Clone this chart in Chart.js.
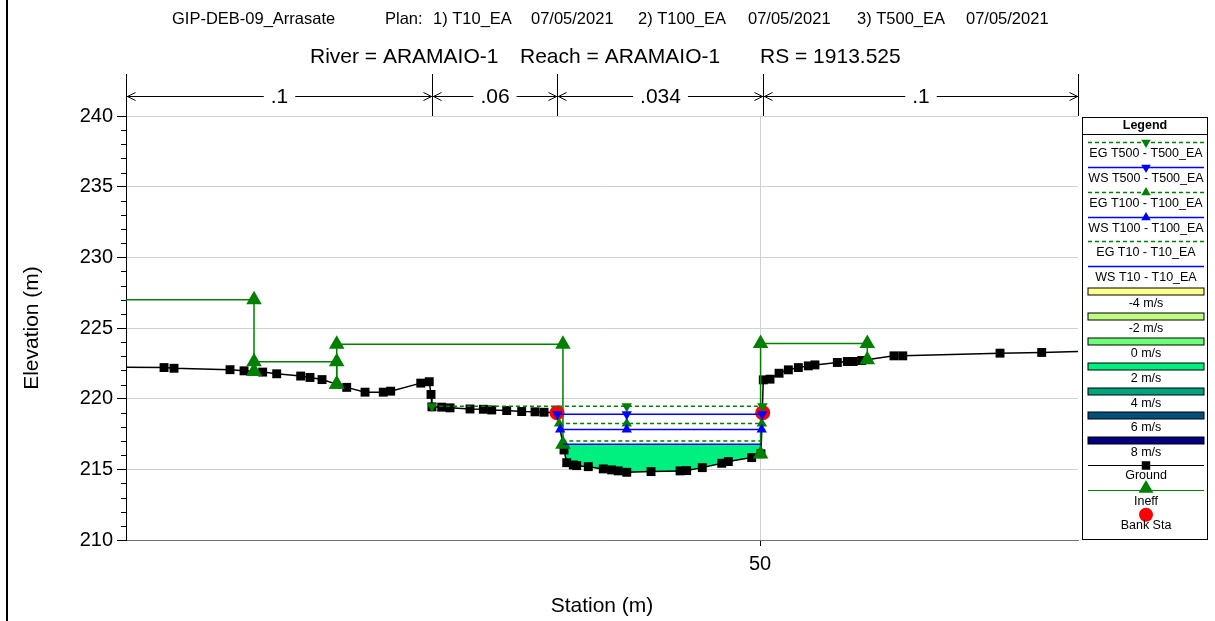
<!DOCTYPE html>
<html>
<head>
<meta charset="utf-8">
<title>ARAMAIO-1 RS 1913.525</title>
<script src="https://cdn.jsdelivr.net/npm/chart.js@4.4.1/dist/chart.umd.min.js"></script>
<style>
  html, body { margin: 0; padding: 0; background: #fff; }
  canvas { display: block; }
</style>
</head>
<body>
<canvas id="xsChart" width="1215" height="621"></canvas>
<script>
// ground survey points (station m, elevation m)
const groundSta = [
  0, 5.82, 6.56, 10.71, 11.75, 13.13, 14.17, 15.95, 16.64, 17.53,
  19.36, 20.72, 22.07, 22.62, 24.85, 25.48, 25.61, 25.68, 26.4, 27.02,
  28.5, 29.49, 30.11, 31.22, 32.33, 33.32, 33.99, 34.95, 35.47, 35.67,
  36.16, 36.41, 37.27, 38.38, 39.0, 39.49, 40.12, 41.92, 44.07, 44.56,
  45.72, 47.16, 47.65, 49.38, 50.07, 50.24, 50.74, 51.41, 52.1, 52.84,
  53.58, 54.07, 55.73, 56.47, 56.91, 57.54, 59.93, 60.58, 67.79, 70.88,
  75
];
const groundElev = [
  222.25, 222.2, 222.15, 222.05, 221.97, 221.88, 221.76, 221.6, 221.5, 221.35,
  220.8, 220.46, 220.46, 220.53, 221.1, 221.2, 220.3, 219.42, 219.4, 219.35,
  219.27, 219.25, 219.2, 219.16, 219.09, 219.07, 219.04, 219.0, 216.37, 215.47,
  215.31, 215.26, 215.19, 215.03, 214.96, 214.89, 214.79, 214.84, 214.89, 214.91,
  215.12, 215.43, 215.55, 215.83, 216.1, 221.33, 221.38, 221.8, 222.04, 222.2,
  222.32, 222.39, 222.56, 222.63, 222.63, 222.7, 223.03, 223.03, 223.22, 223.27,
  223.38
];

// bank stations
const bankSta = [34.95, 50.2];
const bankElev = [219.0, 219.0];

// ineffective flow areas
const ineffStart = [0, 12.49, 18.62, 50.04];
const ineffEnd = [12.49, 18.62, 35.39, 57.95];
const ineffElev = [227.0, 222.62, 223.85, 223.9];

// computed profiles
const profiles = ["T500", "T100", "T10"];
const wsElev = [218.9, 217.81, 216.78];
const egElev = [219.47, 218.24, 217.01];
const symbolSta = 40.12;

// Manning's n
const nBreakSta = [25.68, 34.95, 50.2];
const nValues = [".1", ".06", ".034", ".1"];

// velocity colour key
const velLabels = ["-4 m/s", "-2 m/s", "0 m/s", "2 m/s", "4 m/s", "6 m/s", "8 m/s"];
const velColors = ["#FFFF8C", "#BEFF82", "#6EFF78", "#00F080", "#00A47C", "#00507C", "#000080"];

// header
const planText = ["GIP-DEB-09_Arrasate", "Plan:", "1) T10_EA", "07/05/2021", "2) T100_EA", "07/05/2021", "3) T500_EA", "07/05/2021"];
const planX = [172, 385, 433, 531, 638, 748, 857, 966];
const rsText = ["River = ARAMAIO-1", "Reach = ARAMAIO-1", "RS = 1913.525"];
const rsX = [310, 520, 760];

const FONT = "'Liberation Sans', Arial, sans-serif";
const GREEN = "#008000";
const BLUE = "#0000FF";

function groundAt(s) {
  for (let i = 1; i < groundSta.length; i++) {
    if (s <= groundSta[i]) {
      const t = (s - groundSta[i - 1]) / (groundSta[i] - groundSta[i - 1]);
      return groundElev[i - 1] + t * (groundElev[i] - groundElev[i - 1]);
    }
  }
  return groundElev[groundElev.length - 1];
}

// where a level meets the ground either side of the thalweg
function wetExtent(elev) {
  const k = groundElev.indexOf(Math.min(...groundElev));
  let i = k;
  while (i > 0 && groundElev[i - 1] < elev) i--;
  let j = k;
  while (j < groundElev.length - 1 && groundElev[j + 1] < elev) j++;
  const cross = (a, b) => groundSta[a] + (elev - groundElev[a]) / (groundElev[b] - groundElev[a]) * (groundSta[b] - groundSta[a]);
  return [cross(i - 1, i), cross(j, j + 1)];
}

const datasets = [];

profiles.forEach((p, k) => {
  const marker = k < 2;
  const rot = k === 0 ? 180 : 0;
  [[wsElev[k], BLUE, []], [egElev[k], GREEN, [4, 3]]].forEach(([elev, color, dash]) => {
    const [l, r] = wetExtent(elev);
    datasets.push({
      data: [{ x: l, y: elev }, { x: symbolSta, y: elev }, { x: r, y: elev }],
      showLine: true,
      borderColor: color,
      backgroundColor: color,
      borderWidth: 1.5,
      borderDash: dash,
      pointStyle: "triangle",
      pointRotation: rot,
      pointRadius: marker ? 6 : 0,
      pointBorderWidth: 0
    });
  });
});

datasets.push({
  data: bankSta.map((s, i) => ({ x: s, y: bankElev[i] })),
  showLine: false,
  backgroundColor: "#FF0000",
  pointStyle: "circle",
  pointRadius: 7.5,
  pointBorderWidth: 0
});

ineffStart.forEach((s, i) => {
  const e = ineffEnd[i];
  datasets.push({
    data: [
      { x: s, y: groundAt(s) },
      { x: s, y: ineffElev[i] },
      { x: e, y: ineffElev[i] },
      { x: e, y: groundAt(e) }
    ],
    showLine: true,
    borderColor: GREEN,
    backgroundColor: GREEN,
    borderWidth: 1.5,
    pointStyle: "triangle",
    pointRadius: 9,
    pointBorderWidth: 0
  });
});

datasets.push({
  data: groundSta.map((s, i) => ({ x: s, y: groundElev[i] })),
  showLine: true,
  borderColor: "#000",
  backgroundColor: "#000",
  borderWidth: 1.5,
  pointStyle: "rect",
  pointRadius: 6.3,
  pointBorderWidth: 0
});

// wetted area under the lowest profile
const [wl, wr] = wetExtent(wsElev[2]);
const wetted = [{ x: wl, y: wsElev[2] }];
groundSta.forEach((s, i) => { if (s > wl && s < wr) wetted.push({ x: s, y: groundElev[i] }); });
wetted.push({ x: wr, y: wsElev[2] });
datasets.push({
  data: wetted,
  showLine: true,
  borderWidth: 0,
  borderColor: "rgba(0,0,0,0)",
  pointRadius: 0,
  fill: { target: { value: wsElev[2] }, above: velColors[3], below: velColors[3] }
});

function seg(ctx, x1, y1, x2, y2) {
  ctx.beginPath();
  ctx.moveTo(x1, y1);
  ctx.lineTo(x2, y2);
  ctx.stroke();
}

const headerPlugin = {
  id: "header",
  afterDraw(chart) {
    const ctx = chart.ctx;
    ctx.save();
    ctx.fillStyle = "#000";
    ctx.textAlign = "left";
    ctx.textBaseline = "middle";
    ctx.font = `16.5px ${FONT}`;
    planText.forEach((t, i) => ctx.fillText(t, planX[i], 19));
    ctx.font = `21px ${FONT}`;
    rsText.forEach((t, i) => ctx.fillText(t, rsX[i], 57));
    ctx.fillRect(6, 0, 2, chart.height);
    ctx.restore();
  }
};

const manningPlugin = {
  id: "manningN",
  afterDraw(chart) {
    const { ctx, chartArea } = chart;
    const x = chart.scales.x;
    const xs = [chartArea.left, ...nBreakSta.map((s) => x.getPixelForValue(s)), chartArea.right].map((v) => Math.round(v) + 0.5);
    const yl = 96.5;
    ctx.save();
    ctx.strokeStyle = "#000";
    ctx.lineWidth = 1;
    xs.forEach((px) => seg(ctx, px, 74, px, chartArea.top));
    ctx.font = `21px ${FONT}`;
    ctx.textAlign = "center";
    ctx.textBaseline = "middle";
    for (let i = 0; i < nValues.length; i++) {
      const a = xs[i], b = xs[i + 1];
      seg(ctx, a, yl, b, yl);
      ctx.beginPath();
      ctx.moveTo(a + 9, yl - 4); ctx.lineTo(a + 1, yl); ctx.lineTo(a + 9, yl + 4);
      ctx.moveTo(b - 9, yl - 4); ctx.lineTo(b - 1, yl); ctx.lineTo(b - 9, yl + 4);
      ctx.stroke();
      const mid = (a + b) / 2;
      const w = ctx.measureText(nValues[i]).width;
      ctx.fillStyle = "#fff";
      ctx.fillRect(mid - w / 2 - 7, yl - 10, w + 14, 20);
      ctx.fillStyle = "#000";
      ctx.fillText(nValues[i], mid, yl + 1);
    }
    ctx.restore();
  }
};

const minorTickPlugin = {
  id: "minorTicks",
  afterDraw(chart) {
    const { ctx } = chart;
    const y = chart.scales.y;
    ctx.save();
    ctx.strokeStyle = "#000";
    ctx.lineWidth = 1;
    for (let v = y.min + 1; v < y.max; v++) {
      if (v % 5 === 0) continue;
      const py = Math.round(y.getPixelForValue(v)) + 0.5;
      seg(ctx, y.right - 5, py, y.right, py);
    }
    ctx.restore();
  }
};

const keyPlugin = {
  id: "xsKey",
  afterDraw(chart) {
    const ctx = chart.ctx;
    const L = 1082.5, R = 1207.5, T = 117.5, B = 539.5;
    const cx = 1146, x0 = 1088, x1 = 1204;
    const rowY = (i) => 142 + i * 24.85;
    const pt = (style, r, rot, px, py) => Chart.helpers.drawPoint(ctx, { pointStyle: style, radius: r, rotation: rot, borderWidth: 0 }, px, py);
    ctx.save();
    ctx.fillStyle = "#fff";
    ctx.fillRect(L, T, R - L, B - T);
    ctx.strokeStyle = "#000";
    ctx.lineWidth = 1;
    ctx.strokeRect(L, T, R - L, B - T);
    ctx.fillStyle = "#000";
    ctx.textAlign = "center";
    ctx.textBaseline = "middle";
    ctx.font = `bold 12.5px ${FONT}`;
    ctx.fillText("Legend", cx - 1, 125.5);
    seg(ctx, L, 134.5, R, 134.5);
    ctx.font = `12.5px ${FONT}`;

    profiles.forEach((p, k) => {
      const rot = k === 0 ? 180 : 0;
      [["EG", GREEN, [4, 3]], ["WS", BLUE, []]].forEach(([kind, color, dash], j) => {
        const y = Math.round(rowY(2 * k + j)) + 0.5;
        ctx.strokeStyle = color;
        ctx.fillStyle = color;
        ctx.lineWidth = 1.5;
        ctx.setLineDash(dash);
        seg(ctx, x0, y, x1, y);
        ctx.setLineDash([]);
        if (k < 2) pt("triangle", 5.5, rot, cx, y);
        ctx.fillStyle = "#000";
        ctx.fillText(`${kind} ${p} - ${p}_EA`, cx, y + 11);
      });
    });

    velLabels.forEach((lab, i) => {
      const y = Math.round(rowY(6 + i)) + 0.5;
      ctx.fillStyle = velColors[i];
      ctx.fillRect(x0, y - 3.5, x1 - x0, 7);
      ctx.strokeStyle = "#000";
      ctx.lineWidth = 1;
      ctx.strokeRect(x0, y - 3.5, x1 - x0, 7);
      ctx.fillStyle = "#000";
      ctx.fillText(lab, cx, y + 12);
    });

    let y = Math.round(rowY(13)) + 0.5;
    ctx.strokeStyle = "#000";
    ctx.lineWidth = 1.2;
    seg(ctx, x0, y, x1, y);
    ctx.fillStyle = "#000";
    pt("rect", 6, 0, cx, y);
    ctx.fillText("Ground", cx, y + 10);

    y = Math.round(rowY(14)) + 0.5;
    ctx.strokeStyle = GREEN;
    seg(ctx, x0, y, x1, y);
    ctx.fillStyle = GREEN;
    pt("triangle", 8.5, 0, cx, y - 2);
    ctx.fillStyle = "#000";
    ctx.fillText("Ineff", cx, y + 11);

    y = rowY(15);
    ctx.fillStyle = "#FF0000";
    pt("circle", 7, 0, cx, y);
    ctx.fillStyle = "#000";
    ctx.fillText("Bank Sta", cx, y + 11);
    ctx.restore();
  }
};

new Chart(document.getElementById("xsChart"), {
  type: "scatter",
  data: { datasets },
  options: {
    responsive: false,
    animation: false,
    devicePixelRatio: 1,
    layout: { padding: { left: 8, right: 137, top: 116, bottom: 0 } },
    plugins: {
      legend: { display: false },
      tooltip: { enabled: false },
      title: { display: false }
    },
    scales: {
      x: {
        type: "linear",
        min: 3,
        max: 73.57,
        afterBuildTicks: (scale) => { scale.ticks = [{ value: 50 }]; },
        afterFit: (scale) => { scale.height = 81; },
        grid: { color: "#d0d0d0", tickColor: "#000", tickLength: 6 },
        border: { color: "#707070" },
        ticks: { color: "#000", font: { family: FONT, size: 20 }, padding: 6, maxRotation: 0 },
        title: {
          display: true,
          text: "Station (m)",
          color: "#000",
          font: { family: FONT, size: 21 },
          padding: { top: 0, bottom: 2 }
        }
      },
      y: {
        min: 210,
        max: 240,
        afterFit: (scale) => { scale.width = 118; },
        grid: { color: "#d0d0d0", tickColor: "#000", tickLength: 9 },
        border: { color: "#000" },
        ticks: { stepSize: 5, color: "#000", font: { family: FONT, size: 20 }, padding: 4 },
        title: {
          display: true,
          text: "Elevation (m)",
          color: "#000",
          font: { family: FONT, size: 21 },
          padding: { top: 12, bottom: 0 }
        }
      }
    }
  },
  plugins: [headerPlugin, manningPlugin, minorTickPlugin, keyPlugin]
});
</script>
</body>
</html>
